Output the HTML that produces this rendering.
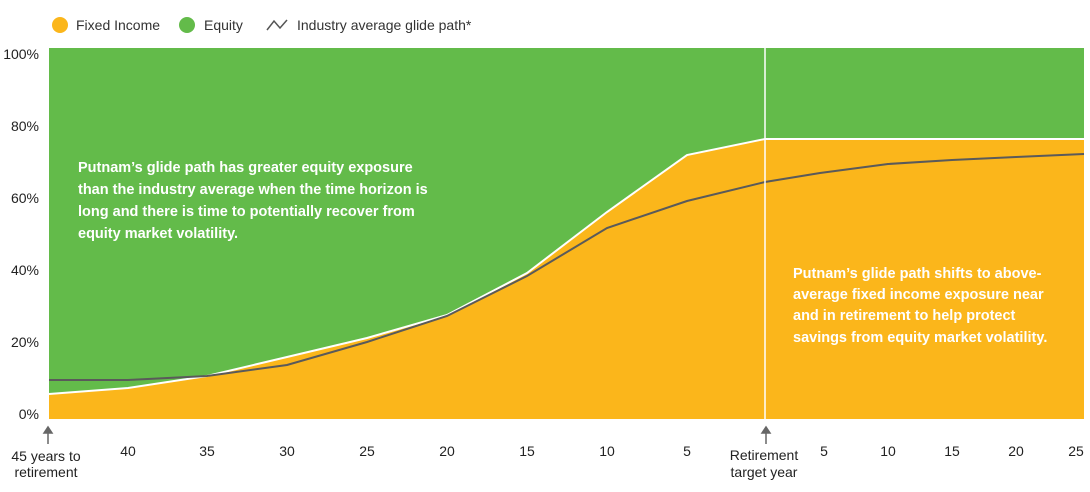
<!DOCTYPE html>
<html><head><style>
body{margin:0;width:1090px;height:487px;background:#fff;font-family:"Liberation Sans",sans-serif;overflow:hidden}
</style></head><body>
<svg width="1090" height="487" xmlns="http://www.w3.org/2000/svg" font-family="Liberation Sans, sans-serif">
<circle cx="60" cy="25" r="8" fill="#FBB61B"/>
<text x="76" y="30" font-size="14" fill="#333">Fixed Income</text>
<circle cx="187" cy="25" r="8" fill="#63BB4A"/>
<text x="204" y="30" font-size="14" fill="#333">Equity</text>
<polyline points="267,30 274,21 280,28 287,20" fill="none" stroke="#555" stroke-width="1.5"/>
<text x="297" y="30" font-size="14" fill="#333">Industry average glide path*</text>

<rect x="49" y="48" width="1035" height="371" fill="#63BB4A"/>
<polygon points="49,394 128,388 207,376 287,357 367,338 447,315 527,273 607,212 687,155 765,139 1084,139 1084,419 49,419" fill="#FBB61B"/>
<polyline points="49,394 128,388 207,376 287,357 367,338 447,315 527,273 607,212 687,155 765,139 1084,139" fill="none" stroke="#fff" stroke-width="2"/>
<polyline points="49,380 128,380 207,376 287,365 367,342 447,316 527,276 607,228 687,201 765,182 820,173 888,164 952,160 1016,157 1084,154" fill="none" stroke="#5a5a5a" stroke-width="2"/>
<line x1="765" y1="48" x2="765" y2="419" stroke="#fff" stroke-width="1.5"/>

<g font-size="14" fill="#222" text-anchor="end">
<text x="39" y="59">100%</text><text x="39" y="131">80%</text><text x="39" y="203">60%</text>
<text x="39" y="275">40%</text><text x="39" y="347">20%</text><text x="39" y="419">0%</text>
</g>
<g font-size="14.5" fill="#fff" font-weight="bold">
<text x="78" y="172">Putnam’s glide path has greater equity exposure</text>
<text x="78" y="194">than the industry average when the time horizon is</text>
<text x="78" y="216">long and there is time to potentially recover from</text>
<text x="78" y="238">equity market volatility.</text>
<text x="793" y="278">Putnam’s glide path shifts to above-</text>
<text x="793" y="299">average fixed income exposure near</text>
<text x="793" y="320">and in retirement to help protect</text>
<text x="793" y="342">savings from equity market volatility.</text>
</g>
<g stroke="#666" stroke-width="1.5" fill="#666">
<line x1="48" y1="431" x2="48" y2="444"/><polygon points="44,433 48,427 52,433"/>
<line x1="766" y1="431" x2="766" y2="444"/><polygon points="762,433 766,427 770,433"/>
</g>
<g font-size="14" fill="#222" text-anchor="middle">
<text x="128" y="456">40</text><text x="207" y="456">35</text><text x="287" y="456">30</text><text x="367" y="456">25</text>
<text x="447" y="456">20</text><text x="527" y="456">15</text><text x="607" y="456">10</text><text x="687" y="456">5</text>
<text x="824" y="456">5</text><text x="888" y="456">10</text><text x="952" y="456">15</text><text x="1016" y="456">20</text><text x="1076" y="456">25</text>
<text x="46" y="461">45 years to</text><text x="46" y="477">retirement</text>
<text x="764" y="460">Retirement</text><text x="764" y="477">target year</text>
</g>
</svg>
</body></html>
